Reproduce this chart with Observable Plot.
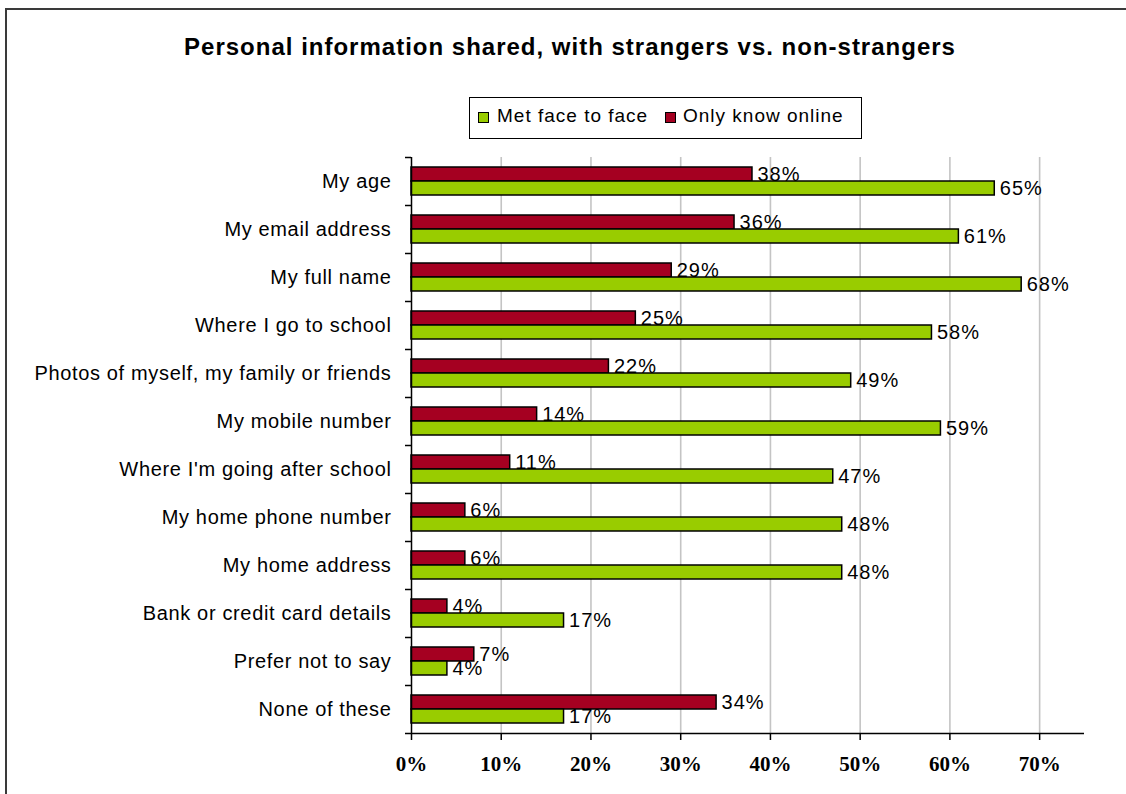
<!DOCTYPE html>
<html>
<head>
<meta charset="utf-8">
<script src="https://cdn.jsdelivr.net/npm/d3@7"></script>
<script src="https://cdn.jsdelivr.net/npm/@observablehq/plot@0.6"></script>
<style>
  html, body { margin: 0; padding: 0; background: #fff; overflow: hidden; }
  body { width: 1126px; height: 794px; position: relative; font-family: "Liberation Sans", Arial, sans-serif; }
  #frame { position: absolute; left: 5px; top: 8px; width: 1121px; height: 786px; border-left: 2px solid #3a3a3a; border-top: 2px solid #3a3a3a; box-sizing: border-box; }
  #title { position: absolute; left: 0; width: 1140px; top: 33px; text-align: center; font-size: 24px; line-height: 28px; font-weight: bold; letter-spacing: 1px; color: #000; }
  #legend { position: absolute; left: 469px; top: 97px; width: 393px; height: 42px; border: 1.5px solid #000; box-sizing: border-box; }
  .sw { position: absolute; width: 11px; height: 11px; border: 1px solid #000; box-sizing: border-box; top: 14px; }
  .lt { position: absolute; top: 8px; font-size: 19px; line-height: 20px; white-space: nowrap; color: #000; letter-spacing: 1px; }
  #chart { position: absolute; left: 0; top: 145px; }
  #chart g[aria-label="y-axis tick label"] text { letter-spacing: 0.65px; }
  #chart g[aria-label="text"] text { letter-spacing: 1px; }
</style>
</head>
<body>
<div id="frame"></div>
<div id="title"></div>
<div id="legend"></div>
<div id="chart"></div>
<script>
const titleText = "Personal information shared, with strangers vs. non-strangers";
const seriesNames = ["Met face to face", "Only know online"];
const seriesColors = ["#99cc00", "#a50021"];
const categories = [
  "My age",
  "My email address",
  "My full name",
  "Where I go to school",
  "Photos of myself, my family or friends",
  "My mobile number",
  "Where I'm going after school",
  "My home phone number",
  "My home address",
  "Bank or credit card details",
  "Prefer not to say",
  "None of these"
];
const metFaceToFace = [65, 61, 68, 58, 49, 59, 47, 48, 48, 17, 4, 17];
const onlyKnowOnline = [38, 36, 29, 25, 22, 14, 11, 6, 6, 4, 7, 34];
const xTicks = [0, 10, 20, 30, 40, 50, 60, 70];
const xMax = 75;

document.getElementById("title").textContent = titleText;

// legend
const legend = document.getElementById("legend");
[[8, 27, 0], [195, 213, 1]].forEach(([sx, tx, i]) => {
  const sw = document.createElement("div");
  sw.className = "sw"; sw.style.left = sx + "px"; sw.style.background = seriesColors[i];
  legend.appendChild(sw);
  const t = document.createElement("div");
  t.className = "lt"; t.style.left = tx + "px"; t.textContent = seriesNames[i];
  legend.appendChild(t);
});

const rows = categories.map((c, i) => ({cat: c, face: metFaceToFace[i], online: onlyKnowOnline[i]}));
const lastCat = categories[categories.length - 1];

const plot = Plot.plot({
  width: 1126,
  height: 649,
  marginTop: 12,
  marginBottom: 61,
  marginLeft: 411,
  marginRight: 42,
  style: {fontFamily: "'Liberation Sans', Arial, sans-serif", fontSize: "20px", background: "transparent", color: "#000"},
  x: {domain: [0, xMax]},
  y: {domain: categories, padding: 0},
  marks: [
    Plot.gridX({ticks: xTicks.filter(d => d > 0), stroke: "#c4c4c4", strokeOpacity: 1, strokeWidth: 1.6}),
    Plot.barX(rows, {x: "online", y: "cat", fill: seriesColors[1], stroke: "#000", strokeWidth: 1.5, insetTop: 10, insetBottom: 24}),
    Plot.barX(rows, {x: "face", y: "cat", fill: seriesColors[0], stroke: "#000", strokeWidth: 1.5, insetTop: 24, insetBottom: 10}),
    Plot.ruleX([0], {stroke: "#000", strokeWidth: 1.5}),
    Plot.ruleY(categories, {y: d => d, dy: -24, x1: 0, x2: 0, insetLeft: -6, stroke: "#000", strokeWidth: 1.5}),
    Plot.ruleY([lastCat], {y: d => d, dy: 24, x1: 0, x2: xMax, insetLeft: -6, stroke: "#000", strokeWidth: 1.5}),
    Plot.axisY({tickSize: 0, tickPadding: 20, fontSize: 20, label: null}),
    Plot.axisX({ticks: xTicks, tickFormat: d => d + "%", tickSize: 7, tickPadding: 16, fontSize: 21, fontWeight: "bold", fontFamily: "'Liberation Serif', serif", label: null, stroke: "#000", strokeWidth: 1.5}),
    Plot.text(rows, {x: "online", y: "cat", text: d => d.online + "%", dx: 5, dy: -7, textAnchor: "start", fontSize: 20}),
    Plot.text(rows, {x: "face", y: "cat", text: d => d.face + "%", dx: 5, dy: 7, textAnchor: "start", fontSize: 20})
  ]
});
document.getElementById("chart").appendChild(plot);
</script>
</body>
</html>
